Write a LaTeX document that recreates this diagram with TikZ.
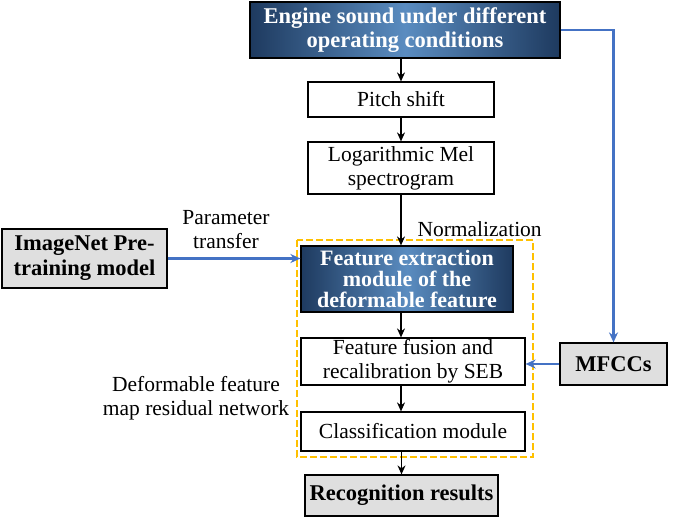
\documentclass[tikz,border=0pt]{standalone}
\usepackage{fontspec}
\setmainfont{Liberation Serif}
\usetikzlibrary{arrows.meta}
\definecolor{navy}{HTML}{1E3A5F}
\definecolor{midb}{HTML}{5A8CC0}
\definecolor{arb}{HTML}{4472C4}
\definecolor{org}{HTML}{FFC000}
\begin{document}
\begin{tikzpicture}[x=1pt,y=-1pt,
 txt/.style={font=\fontsize{21.5}{24}\selectfont},
 wbox/.style={draw,line width=1.2pt,fill=white,txt,align=center,inner sep=0},
 gbox/.style={draw,line width=1.2pt,fill=gray!25,font=\fontsize{22.5}{25}\selectfont\bfseries,align=center,inner sep=0},
 bbox/.style={draw,line width=1.2pt,left color=navy,right color=navy,middle color=midb,text=white,font=\fontsize{22.5}{24}\selectfont\bfseries,align=center,inner sep=0},
 ar/.style={-{Stealth[length=9pt,width=8pt]},line width=1.2pt},
 br/.style={-{Stealth[length=10pt,width=9pt]},arb,line width=2.2pt}]
\useasboundingbox (0,0) rectangle (685,519);
\draw[org,line width=2.2pt,dash pattern=on 7pt off 3pt] (297,240) rectangle (533,457);
\node[bbox,minimum width=310,minimum height=56] (eng) at (405,30) {Engine sound under different\\operating conditions};
\node[wbox,minimum width=186,minimum height=35] (ps) at (401,99.5) {Pitch shift};
\node[wbox,minimum width=186,minimum height=52] (lm) at (401,168) {Logarithmic Mel\\spectrogram};
\node[txt,anchor=west] (norm) at (414,229) {Normalization};
\node[bbox,minimum width=212,minimum height=66,font=\fontsize{22}{21}\selectfont\bfseries] (fe) at (407,279) {Feature extraction\\module of the\\deformable feature};
\node[wbox,minimum width=224,minimum height=47] (ff) at (413,361.5) {Feature fusion and\\recalibration by SEB};
\node[wbox,minimum width=224,minimum height=39] (cm) at (413,431.5) {Classification module};
\node[gbox,minimum width=193,minimum height=41] (rr) at (401.5,495.5) {Recognition results};
\node[gbox,minimum width=165,minimum height=59] (im) at (84.5,258.5) {ImageNet Pre-\\training model};
\node[gbox,minimum width=107,minimum height=42] (mf) at (613.5,364) {MFCCs};
\node[txt,align=center] (pt) at (226,230) {Parameter\\transfer};
\node[txt,align=center] (dr) at (196,398) {Deformable feature\\map residual network};
\draw[ar] (eng.south -| ps) -- (ps.north);
\draw[ar] (ps) -- (lm);
\draw[ar] (lm.south) -- (lm.south |- fe.north);
\draw[ar] (fe.south -| ps) -- (ff.north -| ps);
\draw[ar] (ff.south -| ps) -- (cm.north -| ps);
\draw[ar] (cm.south -| rr) -- (rr.north);
\draw[br] (im.east) -- (im.east -| fe.west);
\draw[br] (eng.east) -| (mf.north);
\draw[br] (mf.west) -- (mf.west -| ff.east);
\end{tikzpicture}
\end{document}
